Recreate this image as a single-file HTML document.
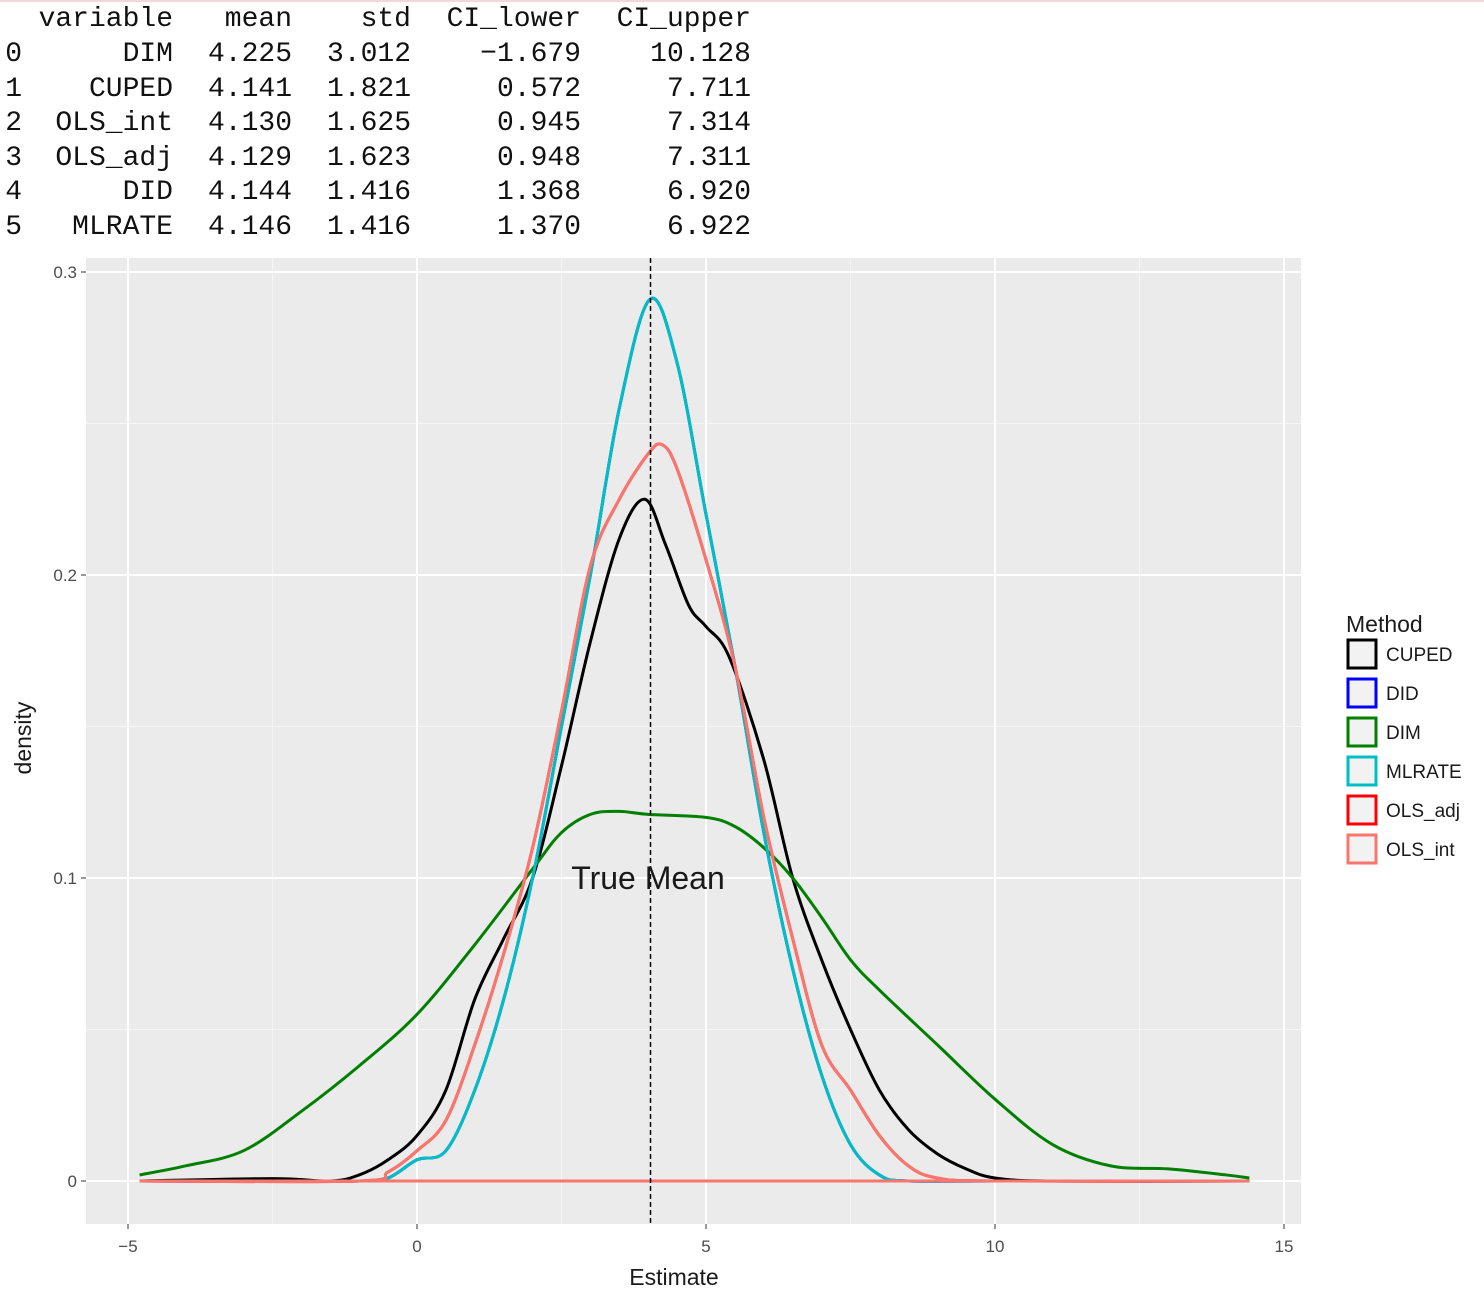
<!DOCTYPE html>
<html><head><meta charset="utf-8"><style>
body{margin:0;width:1484px;height:1298px;background:#fff;overflow:hidden;position:relative;font-family:"Liberation Sans",sans-serif}
.c{position:absolute;font-family:"Liberation Mono",monospace;font-size:28px;color:#111;line-height:34px;white-space:pre;text-align:right}
</style></head><body>
<div style="position:absolute;left:0;top:0;width:1484px;height:2px;background:#f6d6d6"></div>
<div id="tbl"></div>
<svg id="chart" width="1484" height="1298" style="position:absolute;left:0;top:0"></svg>
<script>
const headers=["variable","mean","std","CI_lower","CI_upper"];
const rows=[["DIM","4.225","3.012","−1.679","10.128"],["CUPED","4.141","1.821","0.572","7.711"],["OLS_int","4.130","1.625","0.945","7.314"],["OLS_adj","4.129","1.623","0.948","7.311"],["DID","4.144","1.416","1.368","6.920"],["MLRATE","4.146","1.416","1.370","6.922"]];
const colRight=[173,292,411,581,751];
const tbl=document.getElementById('tbl');
function cell(txt,right,top,name){const d=document.createElement('div');d.className='c';d.textContent=txt;d.style.right=(1484-right)+'px';d.style.top=top+'px';


tbl.appendChild(d);}
headers.forEach((h,i)=>cell(h,colRight[i],3,'table-header-'+h.toLowerCase()));
rows.forEach((r,j)=>{const top=38+j*34.6;cell(String(j),22,top,'row-index-'+j);r.forEach((v,i)=>cell(v,colRight[i],top,'cell-'+j+'-'+i));});

const xs={
CUPED:[-4.8,-2.5,-1.5,-1,-0.5,0,0.5,1,1.5,2,2.5,3,3.5,3.94,4.3,4.7,5,5.4,6,6.5,7,7.5,8,8.5,9,9.5,10,11,14.4],
DID:[-4.8,-1,-0.5,0,0.5,1,1.5,2,2.5,3,3.5,4.03,4.5,5,5.5,6,6.5,7,7.5,8,8.5,10,14.4],
DIM:[-4.8,-4,-3,-2,-1,0,1,2,2.5,3,3.5,4,5,5.5,6,6.5,7,7.5,8,9,10,11,12,13,14,14.4],
OLS:[-4.8,-1,-0.5,0,0.5,1,1.5,2,2.5,3,3.5,4,4.24,4.5,5,5.5,6,6.5,7,7.5,8,8.5,9,10,14.4]};
const ys={
CUPED:[0,0.0008,0,0.002,0.007,0.015,0.03,0.06,0.08,0.1,0.137,0.178,0.212,0.225,0.21,0.19,0.183,0.173,0.139,0.1,0.073,0.05,0.03,0.017,0.009,0.004,0.001,0,0],
DID:[0,0,0.001,0.007,0.01,0.03,0.06,0.1,0.15,0.2,0.255,0.291,0.27,0.22,0.17,0.115,0.07,0.035,0.012,0.002,0,0,0],
DIM:[0.002,0.005,0.01,0.023,0.038,0.055,0.078,0.103,0.115,0.121,0.122,0.121,0.12,0.117,0.11,0.1,0.087,0.073,0.063,0.045,0.027,0.012,0.005,0.004,0.002,0.001],
OLS:[0,0,0.003,0.01,0.02,0.045,0.075,0.11,0.155,0.203,0.225,0.24,0.243,0.235,0.205,0.17,0.12,0.08,0.045,0.03,0.015,0.005,0.001,0,0]};
const series=[["CUPED","CUPED","#000000"],["DID","DID","#0000ff"],["DIM","DIM","#008000"],["MLRATE","DID","#00bfc4"],["OLS_adj","OLS","#ff0000"],["OLS_int","OLS","#f8766d"]];
const xTicks=[-5,0,5,10,15], xTickLabels=["−5","0","5","10","15"];
const yTicks=[0,0.1,0.2,0.3], yTickLabels=["0","0.1","0.2","0.3"];
const trueMean=4.04;

const L=86,R=1301,T=258,B=1224;
const X=v=>417+v*57.8, Y=v=>1181-v*3030;
const svg=document.getElementById('chart');const NS='http://www.w3.org/2000/svg';
function el(t,a,name){const e=document.createElementNS(NS,t);for(const k in a)e.setAttribute(k,a[k]);


svg.appendChild(e);return e;}
el('rect',{x:L,y:T,width:R-L,height:B-T,fill:'#ebebeb'},'plot-panel');
for(let i=0;i<xTicks.length-1;i++){const m=(xTicks[i]+xTicks[i+1])/2;el('line',{x1:X(m),x2:X(m),y1:T,y2:B,stroke:'#f5f5f5','stroke-width':1},'minor-gridline-x');}
for(let i=0;i<yTicks.length-1;i++){const m=(yTicks[i]+yTicks[i+1])/2;el('line',{x1:L,x2:R,y1:Y(m),y2:Y(m),stroke:'#f5f5f5','stroke-width':1},'minor-gridline-y');}
xTicks.forEach((t,i)=>{el('line',{x1:X(t),x2:X(t),y1:T,y2:B,stroke:'#fff','stroke-width':2},'gridline-x');
el('line',{x1:X(t),x2:X(t),y1:B,y2:B+5,stroke:'#333','stroke-width':1},'x-tick');
const tx=el('text',{x:X(t),y:B+28,'text-anchor':'middle','font-size':17,fill:'#4d4d4d'},'x-tick-label');tx.textContent=xTickLabels[i];});
yTicks.forEach((t,i)=>{el('line',{x1:L,x2:R,y1:Y(t),y2:Y(t),stroke:'#fff','stroke-width':2},'gridline-y');
el('line',{x1:L-5,x2:L,y1:Y(t),y2:Y(t),stroke:'#333','stroke-width':1},'y-tick');
const tx=el('text',{x:L-9,y:Y(t)+6,'text-anchor':'end','font-size':17,fill:'#4d4d4d'},'y-tick-label');tx.textContent=yTickLabels[i];});
function path(px,py){const p=px.map((v,i)=>[X(v),Y(py[i])]);let d='M'+p[0][0]+','+p[0][1];
for(let i=0;i<p.length-1;i++){const p0=p[Math.max(0,i-1)],p1=p[i],p2=p[i+1],p3=p[Math.min(p.length-1,i+2)];
d+=' C'+(p1[0]+(p2[0]-p0[0])/6)+','+(p1[1]+(p2[1]-p0[1])/6)+' '+(p2[0]-(p3[0]-p1[0])/6)+','+(p2[1]-(p3[1]-p1[1])/6)+' '+p2[0]+','+p2[1];}
return d;}
series.forEach(([name,key,col])=>{const a=xs[key];
el('line',{x1:X(a[0]),x2:X(a[a.length-1]),y1:Y(0),y2:Y(0),stroke:col,'stroke-width':3},'baseline-'+name.toLowerCase());
el('path',{d:path(a,ys[key]),fill:'none',stroke:col,'stroke-width':3},'density-curve-'+name.toLowerCase());});
el('line',{x1:X(trueMean),x2:X(trueMean),y1:T,y2:B,stroke:'#000','stroke-width':1.5,'stroke-dasharray':'5,3'},'true-mean-line');
let t=el('text',{x:648,y:889,'text-anchor':'middle','font-size':32,fill:'#1a1a1a'},'true-mean-label');t.textContent='True Mean';
t=el('text',{x:674,y:1285,'text-anchor':'middle','font-size':23,fill:'#1a1a1a'},'x-axis-title');t.textContent='Estimate';
t=el('text',{x:0,y:0,'text-anchor':'middle','font-size':23,fill:'#1a1a1a',transform:'translate(31,738) rotate(-90)'},'y-axis-title');t.textContent='density';
t=el('text',{x:1346,y:632,'font-size':23,fill:'#1a1a1a'},'legend-title');t.textContent='Method';
series.forEach(([name,key,col],i)=>{const y=640+i*39;
el('rect',{x:1348,y:y,width:28,height:28,fill:'#f2f2f2',stroke:col,'stroke-width':3},'legend-key-'+name.toLowerCase());
const tx=el('text',{x:1386,y:y+21,'font-size':19,fill:'#1a1a1a'},'legend-label-'+name.toLowerCase());tx.textContent=name;});
</script>
</body></html>
